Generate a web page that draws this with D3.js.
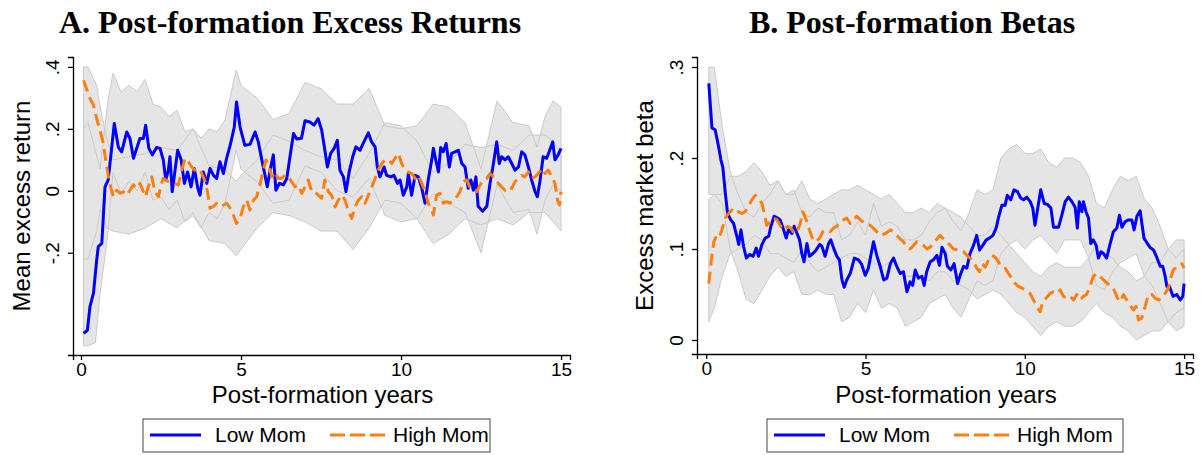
<!DOCTYPE html>
<html>
<head>
<meta charset="utf-8">
<script src="https://cdn.jsdelivr.net/npm/d3@7"></script>
<style>
  html, body { margin: 0; padding: 0; background: #ffffff; }
  svg { display: block; }
</style>
</head>
<body>
<svg id="chart" width="1203" height="455"></svg>
<script>
// ---- Panel A: mean excess return by post-formation year ----
const retLowMom = [[0.08,-0.46],[0.2,-0.45],[0.28,-0.374],[0.39,-0.33],[0.49,-0.224],[0.54,-0.18],[0.65,-0.17],[0.75,0.013],[0.85,0.035],[0.96,0.14],[1.04,0.217],[1.17,0.14],[1.27,0.126],[1.43,0.19],[1.53,0.169],[1.64,0.105],[1.74,0.137],[1.84,0.169],[1.95,0.169],[2.02,0.212],[2.12,0.137],[2.23,0.116],[2.36,0.14],[2.47,0.137],[2.57,0.1],[2.65,0.035],[2.73,0.067],[2.78,0.11],[2.85,-0.003],[2.94,0.067],[3.02,0.131],[3.13,0.1],[3.23,0.024],[3.33,0.061],[3.44,0.013],[3.54,0.072],[3.65,0.008],[3.72,-0.014],[3.82,0.061],[3.93,0.024],[4.03,0.072],[4.14,0.05],[4.24,0.04],[4.34,0.094],[4.45,0.056],[4.55,0.105],[4.66,0.147],[4.71,0.169],[4.79,0.206],[4.86,0.287],[4.97,0.206],[5.12,0.147],[5.28,0.15],[5.44,0.19],[5.54,0.158],[5.65,0.1],[5.75,0.05],[5.82,0.013],[5.93,0.077],[6.01,0.116],[6.09,0.002],[6.2,0.024],[6.32,0.019],[6.43,0.04],[6.53,0.11],[6.64,0.185],[6.74,0.167],[6.89,0.17],[7.0,0.226],[7.15,0.222],[7.28,0.212],[7.41,0.233],[7.52,0.196],[7.62,0.131],[7.7,0.077],[7.8,0.121],[7.91,0.137],[8.01,0.163],[8.09,0.067],[8.2,0.045],[8.28,-0.003],[8.38,0.061],[8.49,0.11],[8.59,0.142],[8.72,0.131],[8.84,0.158],[8.98,0.187],[9.08,0.158],[9.19,0.142],[9.26,0.077],[9.34,0.045],[9.47,0.077],[9.55,0.05],[9.68,0.045],[9.78,0.05],[9.89,0.024],[9.97,0.035],[10.07,-0.014],[10.18,0.013],[10.23,0.056],[10.33,-0.014],[10.44,0.05],[10.54,0.045],[10.65,0.008],[10.75,-0.04],[10.85,0.035],[10.96,0.1],[11.01,0.137],[11.11,0.088],[11.17,0.061],[11.24,0.14],[11.32,0.126],[11.41,0.153],[11.51,0.077],[11.58,0.121],[11.69,0.126],[11.79,0.131],[11.9,0.088],[12.0,0.077],[12.1,0.008],[12.18,0.035],[12.26,0.002],[12.34,0.045],[12.41,-0.05],[12.55,-0.066],[12.68,-0.05],[12.78,0.024],[12.88,0.083],[12.99,0.158],[13.07,0.088],[13.14,0.11],[13.25,0.1],[13.35,0.11],[13.46,0.088],[13.56,0.067],[13.67,0.077],[13.77,0.126],[13.87,0.116],[13.98,0.077],[14.08,0.035],[14.19,-0.003],[14.26,-0.019],[14.34,0.03],[14.44,0.11],[14.55,0.105],[14.63,0.126],[14.74,0.158],[14.81,0.1],[14.91,0.116],[15.0,0.137]];

const retHighMom = [[0.08,0.357],[0.28,0.298],[0.39,0.277],[0.49,0.233],[0.59,0.196],[0.7,0.153],[0.77,0.1],[0.85,0.05],[0.94,0.008],[1.01,-0.019],[1.11,0.002],[1.22,-0.008],[1.32,-0.003],[1.43,-0.014],[1.53,0.002],[1.64,0.019],[1.74,0.008],[1.84,0.024],[1.95,-0.003],[2.02,-0.019],[2.1,0.013],[2.21,0.045],[2.31,-0.003],[2.42,-0.019],[2.5,0.019],[2.57,0.04],[2.73,0.03],[2.9,0.024],[3.04,0.019],[3.15,0.067],[3.25,0.105],[3.35,0.094],[3.46,0.077],[3.56,0.067],[3.67,0.072],[3.75,0.061],[3.88,0.03],[3.96,-0.008],[4.03,-0.056],[4.14,-0.05],[4.24,-0.04],[4.34,-0.035],[4.45,-0.046],[4.55,-0.04],[4.66,-0.056],[4.76,-0.078],[4.86,-0.105],[4.97,-0.089],[5.07,-0.052],[5.18,-0.03],[5.28,-0.062],[5.39,-0.03],[5.49,-0.019],[5.59,0.019],[5.7,0.067],[5.78,0.1],[5.89,0.077],[5.96,0.045],[6.05,0.061],[6.16,0.04],[6.27,0.04],[6.37,0.05],[6.48,0.045],[6.58,0.03],[6.69,0.013],[6.79,0.019],[6.9,-0.008],[7.0,0.013],[7.1,0.035],[7.21,-0.003],[7.31,-0.003],[7.41,-0.014],[7.52,-0.024],[7.62,0.035],[7.73,-0.003],[7.83,-0.014],[7.94,-0.052],[8.04,-0.03],[8.15,-0.014],[8.25,-0.03],[8.36,-0.068],[8.46,-0.089],[8.56,-0.052],[8.67,-0.03],[8.77,-0.019],[8.88,-0.04],[8.98,-0.014],[9.09,0.013],[9.19,0.04],[9.29,0.067],[9.4,0.088],[9.5,0.1],[9.61,0.1],[9.71,0.088],[9.81,0.105],[9.92,0.121],[10.02,0.088],[10.13,0.067],[10.23,0.06],[10.33,0.056],[10.44,0.04],[10.54,0.05],[10.65,0.024],[10.75,-0.003],[10.85,-0.04],[10.96,-0.062],[11.01,-0.078],[11.11,-0.014],[11.22,-0.008],[11.32,-0.04],[11.43,-0.035],[11.53,-0.04],[11.64,-0.03],[11.74,-0.019],[11.84,-0.003],[11.95,0.03],[12.05,0.035],[12.15,0.013],[12.26,0.002],[12.36,-0.003],[12.47,0.019],[12.57,0.035],[12.68,0.04],[12.78,0.056],[12.94,0.04],[13.04,0.024],[13.14,0.013],[13.25,0.002],[13.35,0.013],[13.46,0.008],[13.56,0.03],[13.67,0.04],[13.77,0.05],[13.87,0.045],[13.98,0.061],[14.08,0.04],[14.19,0.045],[14.29,0.056],[14.4,0.072],[14.5,0.056],[14.6,0.067],[14.71,0.045],[14.81,0.024],[14.89,-0.03],[14.95,-0.046],[15.0,-0.003]];

// confidence bands: [year, lower, upper]
const retLowMomBand = [[0.08,-0.5,0.2],[0.22,-0.5,0.22],[0.45,-0.49,0.13],[0.6,-0.33,0.07],[0.84,-0.14,0.29],[1.0,0.06,0.38],[1.25,-0.01,0.32],[1.5,0.03,0.34],[1.75,0.0,0.32],[2.0,0.06,0.36],[2.25,-0.03,0.28],[2.5,-0.02,0.27],[2.75,-0.06,0.24],[3.0,-0.03,0.26],[3.25,-0.1,0.19],[3.5,-0.08,0.2],[3.75,-0.12,0.17],[4.0,-0.07,0.2],[4.25,-0.09,0.19],[4.5,-0.04,0.23],[4.85,0.13,0.39],[5.0,0.07,0.34],[5.5,0.03,0.3],[6.0,-0.04,0.23],[6.5,-0.03,0.25],[7.0,0.08,0.35],[7.5,0.06,0.33],[8.0,0.0,0.28],[8.5,-0.02,0.28],[9.0,0.04,0.33],[9.5,-0.08,0.21],[10.0,-0.1,0.2],[10.5,-0.09,0.21],[11.0,-0.01,0.28],[11.5,-0.04,0.27],[12.0,-0.07,0.22],[12.5,-0.2,0.07],[13.0,0.02,0.29],[13.5,-0.07,0.22],[14.0,-0.06,0.21],[14.25,-0.14,0.14],[14.5,-0.03,0.24],[14.75,0.02,0.29],[15.0,0.0,0.27]];

const retHighMomBand = [[0.08,-0.22,0.4],[0.22,-0.22,0.4],[0.49,-0.13,0.34],[0.6,-0.06,0.27],[0.8,-0.12,0.17],[1.0,-0.13,0.1],[1.5,-0.14,0.11],[2.0,-0.12,0.12],[2.5,-0.09,0.14],[3.0,-0.12,0.13],[3.5,-0.07,0.2],[4.0,-0.16,0.08],[4.5,-0.17,0.07],[4.85,-0.21,0.03],[5.0,-0.19,0.05],[5.5,-0.12,0.1],[6.0,-0.07,0.18],[6.5,-0.08,0.16],[7.0,-0.1,0.13],[7.5,-0.13,0.11],[8.0,-0.13,0.1],[8.5,-0.19,0.04],[9.0,-0.12,0.12],[9.5,-0.03,0.22],[10.0,-0.04,0.21],[10.5,-0.09,0.16],[11.0,-0.17,0.06],[11.5,-0.14,0.09],[12.0,-0.09,0.15],[12.5,-0.11,0.14],[13.0,-0.09,0.15],[13.5,-0.11,0.13],[14.0,-0.07,0.18],[14.5,-0.07,0.18],[14.75,-0.1,0.16],[15.0,-0.13,0.12]];

// ---- Panel B: excess market beta by post-formation year ----
const betaLowMom = [[0.08,0.282],[0.18,0.233],[0.28,0.231],[0.39,0.212],[0.46,0.198],[0.52,0.19],[0.6,0.161],[0.67,0.139],[0.77,0.132],[0.86,0.128],[0.96,0.114],[1.02,0.105],[1.09,0.121],[1.17,0.103],[1.26,0.09],[1.36,0.094],[1.47,0.092],[1.57,0.101],[1.64,0.092],[1.75,0.105],[1.85,0.112],[1.96,0.114],[2.03,0.125],[2.13,0.136],[2.24,0.134],[2.32,0.132],[2.41,0.123],[2.51,0.112],[2.58,0.121],[2.69,0.117],[2.76,0.125],[2.85,0.117],[2.93,0.11],[3.0,0.095],[3.07,0.086],[3.16,0.106],[3.24,0.092],[3.35,0.095],[3.45,0.099],[3.56,0.105],[3.63,0.103],[3.73,0.092],[3.84,0.106],[3.91,0.11],[4.02,0.099],[4.1,0.092],[4.18,0.088],[4.26,0.066],[4.33,0.058],[4.41,0.066],[4.52,0.073],[4.65,0.09],[4.78,0.088],[4.88,0.083],[4.99,0.071],[5.09,0.079],[5.25,0.108],[5.36,0.092],[5.46,0.081],[5.57,0.066],[5.67,0.068],[5.78,0.084],[5.88,0.09],[5.98,0.081],[6.09,0.073],[6.19,0.075],[6.3,0.053],[6.4,0.064],[6.48,0.06],[6.56,0.077],[6.66,0.068],[6.77,0.07],[6.84,0.06],[6.92,0.075],[7.03,0.086],[7.13,0.088],[7.24,0.093],[7.32,0.082],[7.4,0.102],[7.5,0.095],[7.57,0.081],[7.68,0.077],[7.78,0.084],[7.89,0.062],[7.97,0.071],[8.08,0.081],[8.18,0.079],[8.28,0.095],[8.39,0.104],[8.49,0.115],[8.58,0.099],[8.68,0.104],[8.79,0.11],[8.89,0.112],[9.0,0.115],[9.1,0.123],[9.17,0.134],[9.28,0.148],[9.38,0.148],[9.45,0.159],[9.56,0.154],[9.66,0.165],[9.77,0.163],[9.87,0.156],[9.96,0.154],[10.06,0.157],[10.17,0.152],[10.25,0.145],[10.32,0.126],[10.43,0.15],[10.5,0.165],[10.61,0.15],[10.71,0.149],[10.82,0.145],[10.9,0.124],[11.06,0.124],[11.16,0.137],[11.27,0.152],[11.37,0.157],[11.48,0.152],[11.58,0.146],[11.65,0.123],[11.71,0.152],[11.79,0.141],[11.84,0.152],[11.92,0.141],[12.0,0.134],[12.07,0.106],[12.15,0.11],[12.24,0.104],[12.31,0.09],[12.39,0.097],[12.47,0.095],[12.57,0.09],[12.68,0.106],[12.78,0.119],[12.89,0.123],[12.97,0.137],[13.05,0.124],[13.15,0.13],[13.26,0.132],[13.36,0.132],[13.43,0.121],[13.52,0.136],[13.62,0.142],[13.74,0.112],[13.85,0.106],[13.95,0.101],[14.04,0.099],[14.14,0.091],[14.25,0.081],[14.33,0.081],[14.4,0.071],[14.46,0.059],[14.54,0.059],[14.65,0.048],[14.77,0.05],[14.88,0.044],[14.96,0.048],[15.0,0.062]];

const betaHighMom = [[0.08,0.062],[0.16,0.088],[0.24,0.108],[0.34,0.116],[0.42,0.114],[0.49,0.121],[0.6,0.134],[0.7,0.139],[0.81,0.143],[0.91,0.139],[1.02,0.141],[1.12,0.139],[1.22,0.141],[1.33,0.147],[1.43,0.154],[1.54,0.159],[1.64,0.156],[1.75,0.15],[1.82,0.139],[1.9,0.126],[2.01,0.13],[2.11,0.134],[2.22,0.132],[2.32,0.126],[2.43,0.121],[2.55,0.125],[2.66,0.123],[2.76,0.117],[2.87,0.121],[2.95,0.128],[3.03,0.141],[3.14,0.132],[3.24,0.121],[3.35,0.11],[3.45,0.108],[3.56,0.112],[3.66,0.119],[3.77,0.121],[3.89,0.119],[4.0,0.123],[4.1,0.125],[4.21,0.13],[4.31,0.132],[4.41,0.134],[4.52,0.128],[4.63,0.132],[4.73,0.136],[4.84,0.132],[4.99,0.128],[5.15,0.126],[5.3,0.121],[5.46,0.115],[5.62,0.117],[5.78,0.121],[5.88,0.119],[5.98,0.115],[6.09,0.111],[6.19,0.108],[6.3,0.102],[6.4,0.1],[6.51,0.104],[6.61,0.108],[6.72,0.106],[6.82,0.104],[6.93,0.1],[7.03,0.102],[7.13,0.106],[7.24,0.111],[7.34,0.115],[7.45,0.111],[7.55,0.108],[7.66,0.104],[7.76,0.1],[7.87,0.099],[7.97,0.097],[8.08,0.097],[8.18,0.093],[8.28,0.09],[8.39,0.086],[8.49,0.079],[8.58,0.075],[8.65,0.084],[8.76,0.08],[8.86,0.088],[8.97,0.093],[9.07,0.091],[9.17,0.086],[9.28,0.08],[9.38,0.079],[9.49,0.073],[9.59,0.068],[9.7,0.062],[9.8,0.059],[9.91,0.057],[10.01,0.055],[10.17,0.051],[10.27,0.044],[10.37,0.037],[10.48,0.031],[10.56,0.042],[10.67,0.046],[10.79,0.051],[10.9,0.053],[11.0,0.051],[11.11,0.055],[11.21,0.048],[11.32,0.046],[11.42,0.048],[11.53,0.044],[11.63,0.05],[11.74,0.044],[11.84,0.048],[11.94,0.05],[12.05,0.059],[12.15,0.07],[12.26,0.073],[12.36,0.07],[12.47,0.066],[12.59,0.062],[12.7,0.06],[12.8,0.055],[12.91,0.046],[12.99,0.042],[13.1,0.05],[13.2,0.044],[13.31,0.038],[13.41,0.033],[13.49,0.037],[13.57,0.022],[13.67,0.024],[13.78,0.037],[13.88,0.05],[13.99,0.05],[14.09,0.046],[14.2,0.044],[14.3,0.046],[14.4,0.051],[14.51,0.057],[14.58,0.068],[14.66,0.077],[14.77,0.08],[14.86,0.082],[14.93,0.084],[15.0,0.079]];

const betaLowMomBand = [[0.08,0.16,0.3],[0.25,0.16,0.3],[0.5,0.15,0.235],[0.75,0.1,0.185],[1.0,0.075,0.16],[1.25,0.045,0.14],[1.5,0.04,0.135],[1.75,0.055,0.15],[2.0,0.07,0.16],[2.25,0.08,0.175],[2.5,0.07,0.16],[2.75,0.075,0.165],[3.0,0.05,0.14],[3.25,0.05,0.135],[3.5,0.055,0.145],[3.75,0.05,0.14],[4.0,0.05,0.14],[4.25,0.02,0.11],[4.5,0.025,0.115],[4.75,0.04,0.13],[5.0,0.03,0.115],[5.25,0.055,0.15],[5.5,0.035,0.125],[5.75,0.04,0.13],[6.0,0.035,0.125],[6.25,0.015,0.11],[6.5,0.02,0.11],[6.75,0.025,0.115],[7.0,0.04,0.13],[7.25,0.045,0.14],[7.5,0.05,0.145],[7.75,0.035,0.13],[8.0,0.025,0.12],[8.25,0.045,0.14],[8.5,0.065,0.165],[8.75,0.06,0.16],[9.0,0.065,0.165],[9.25,0.095,0.2],[9.5,0.105,0.21],[9.75,0.11,0.215],[10.0,0.1,0.205],[10.25,0.11,0.205],[10.5,0.115,0.21],[10.75,0.105,0.195],[11.0,0.095,0.19],[11.25,0.11,0.2],[11.5,0.11,0.2],[11.75,0.11,0.195],[12.0,0.09,0.18],[12.25,0.06,0.15],[12.5,0.055,0.145],[12.75,0.075,0.165],[13.0,0.085,0.18],[13.25,0.09,0.175],[13.5,0.095,0.18],[13.75,0.07,0.155],[14.0,0.06,0.145],[14.25,0.04,0.125],[14.5,0.02,0.1],[14.75,0.01,0.09],[15.0,0.015,0.1]];

const betaHighMomBand = [[0.08,0.02,0.155],[0.25,0.035,0.16],[0.5,0.07,0.16],[0.75,0.095,0.18],[1.0,0.1,0.18],[1.25,0.105,0.185],[1.5,0.115,0.195],[1.75,0.11,0.185],[2.0,0.095,0.17],[2.25,0.095,0.175],[2.5,0.09,0.16],[2.75,0.085,0.16],[3.0,0.1,0.175],[3.25,0.085,0.155],[3.5,0.075,0.15],[3.75,0.08,0.155],[4.0,0.085,0.16],[4.25,0.09,0.165],[4.5,0.095,0.165],[4.75,0.095,0.17],[5.0,0.09,0.165],[5.25,0.085,0.16],[5.5,0.08,0.155],[5.75,0.085,0.16],[6.0,0.08,0.15],[6.25,0.07,0.14],[6.5,0.07,0.14],[6.75,0.07,0.145],[7.0,0.065,0.14],[7.25,0.075,0.15],[7.5,0.075,0.145],[7.75,0.065,0.14],[8.0,0.06,0.135],[8.25,0.055,0.125],[8.5,0.045,0.115],[8.75,0.05,0.115],[9.0,0.055,0.125],[9.25,0.05,0.115],[9.5,0.04,0.105],[9.75,0.03,0.095],[10.0,0.025,0.085],[10.25,0.015,0.075],[10.5,0.005,0.07],[10.75,0.015,0.08],[11.0,0.02,0.085],[11.25,0.015,0.08],[11.5,0.015,0.08],[11.75,0.02,0.08],[12.0,0.03,0.09],[12.25,0.04,0.105],[12.5,0.03,0.095],[12.75,0.025,0.09],[13.0,0.015,0.08],[13.25,0.01,0.075],[13.5,0.0,0.065],[13.75,0.005,0.07],[14.0,0.01,0.085],[14.25,0.01,0.085],[14.5,0.02,0.1],[14.75,0.03,0.11],[15.0,0.035,0.11]];

// ---- axes and labels ----
const yearTicks = [0, 5, 10, 15];
const retTicks = [-0.2, 0, 0.2, 0.4];
const retTickLabels = ["-.2", "0", ".2", ".4"];
const betaTicks = [0, 0.1, 0.2, 0.3];
const betaTickLabels = ["0", ".1", ".2", ".3"];
const seriesNames = ["Low Mom", "High Mom"];

const COLORS = { low: "#0000ff", high: "#ff7f0e", bandFill: "#e5e5e5", bandLine: "#cbcbcb" };
const SANS = "'Liberation Sans', Arial, sans-serif";
const SERIF = "'Liberation Serif', 'Times New Roman', serif";

const svg = d3.select("#chart");

function drawPanel(cfg) {
  const g = svg.append("g");
  const x = d3.scaleLinear().domain(cfg.xDomain).range(cfg.xRange);
  const y = d3.scaleLinear().domain(cfg.yDomain).range(cfg.yRange);

  const area = d3.area().x(d => x(d[0])).y0(d => y(d[1])).y1(d => y(d[2]));
  const line = d3.line().x(d => x(d[0])).y(d => y(d[1]));

  // band fills first, outlines after so both edges stay visible
  cfg.bands.forEach(b => {
    g.append("path").attr("d", area(b)).attr("fill", COLORS.bandFill).attr("stroke", "none");
  });
  cfg.bands.forEach(b => {
    g.append("path").attr("d", area(b)).attr("fill", "none")
      .attr("stroke", COLORS.bandLine).attr("stroke-width", 1);
  });

  g.append("path").attr("d", line(cfg.low)).attr("fill", "none")
    .attr("stroke", COLORS.low).attr("stroke-width", 3).attr("stroke-linejoin", "round");
  g.append("path").attr("d", line(cfg.high)).attr("fill", "none")
    .attr("stroke", COLORS.high).attr("stroke-width", 3)
    .attr("stroke-dasharray", "12,6").attr("stroke-linejoin", "round");

  // x axis
  const xAxis = g.append("g")
    .attr("transform", `translate(0,${cfg.yRange[0]})`)
    .call(d3.axisBottom(x).tickValues(yearTicks).tickFormat(d3.format("d")).tickSizeOuter(0).tickSize(5).tickPadding(3));
  xAxis.selectAll("text").attr("font-size", 19).attr("fill", "#000").attr("font-family", SANS);

  // y axis with rotated labels
  const yAxis = g.append("g")
    .attr("transform", `translate(${cfg.xRange[0]},0)`)
    .call(d3.axisLeft(y).tickValues(cfg.yTicks).tickFormat((d, i) => cfg.yTickLabels[i]).tickSizeOuter(0).tickSize(5));
  yAxis.selectAll(".tick text")
    .attr("font-size", 19).attr("fill", "#000").attr("font-family", SANS)
    .attr("x", 0).attr("dy", 0)
    .attr("text-anchor", "middle")
    .attr("transform", "translate(-14,0) rotate(-90)");
  [xAxis, yAxis].forEach(a => {
    a.selectAll("path, line").attr("stroke", "#000").attr("stroke-width", 1.3);
  });

  // axis titles
  const midX = (cfg.xRange[0] + cfg.xRange[1]) / 2;
  const midY = (cfg.yRange[0] + cfg.yRange[1]) / 2;
  g.append("text").attr("x", midX + 1).attr("y", 403)
    .attr("text-anchor", "middle").attr("font-family", SANS).attr("font-size", 24)
    .text("Post-formation years");
  g.append("text")
    .attr("transform", `translate(${cfg.yTitleX},${midY}) rotate(-90)`)
    .attr("text-anchor", "middle").attr("font-family", SANS).attr("font-size", 24)
    .text(cfg.yTitle);

  // panel title
  g.append("text").attr("x", cfg.titleX).attr("y", 33)
    .attr("text-anchor", "middle").attr("font-family", SERIF).attr("font-weight", "bold")
    .attr("font-size", 32).text(cfg.title);

  // legend
  const lg = g.append("g");
  lg.append("rect").attr("x", cfg.legendX).attr("y", 419).attr("width", cfg.legendW).attr("height", 33)
    .attr("fill", "#fff").attr("stroke", "#444").attr("stroke-width", 1);
  const lx = cfg.legendX;
  lg.append("line").attr("x1", lx + 7).attr("x2", lx + 58).attr("y1", 435).attr("y2", 435)
    .attr("stroke", COLORS.low).attr("stroke-width", 3);
  lg.append("text").attr("x", lx + 72).attr("y", 442).attr("font-family", SANS).attr("font-size", 21)
    .text(seriesNames[0]);
  lg.append("line").attr("x1", lx + 187).attr("x2", lx + 242).attr("y1", 435).attr("y2", 435)
    .attr("stroke", COLORS.high).attr("stroke-width", 3).attr("stroke-dasharray", "15,5");
  lg.append("text").attr("x", lx + 250).attr("y", 442).attr("font-family", SANS).attr("font-size", 21)
    .text(seriesNames[1]);
}

drawPanel({
  title: "A. Post-formation Excess Returns", titleX: 290,
  yTitle: "Mean excess return", yTitleX: 30,
  xDomain: [-0.25, 15.28], xRange: [73, 570],
  yDomain: [-0.53, 0.432], yRange: [355, 57],
  yTicks: retTicks, yTickLabels: retTickLabels,
  bands: [retLowMomBand, retHighMomBand],
  low: retLowMom, high: retHighMom,
  legendX: 143, legendW: 347
});

drawPanel({
  title: "B. Post-formation Betas", titleX: 912,
  yTitle: "Excess market beta", yTitleX: 653,
  xDomain: [-0.29, 15.28], xRange: [697, 1193],
  yDomain: [-0.0154, 0.311], yRange: [354, 57],
  yTicks: betaTicks, yTickLabels: betaTickLabels,
  bands: [betaLowMomBand, betaHighMomBand],
  low: betaLowMom, high: betaHighMom,
  legendX: 767, legendW: 356
});
</script>
</body>
</html>
